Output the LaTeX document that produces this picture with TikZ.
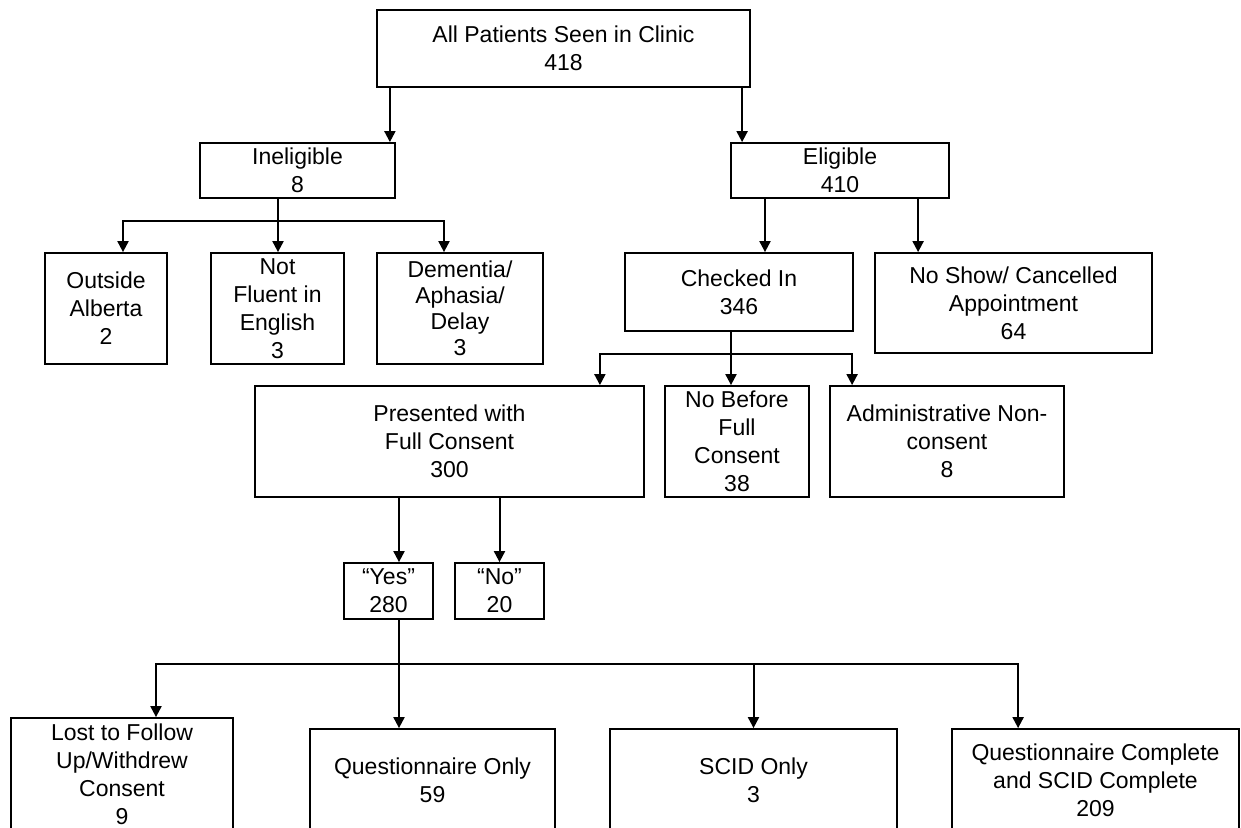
\documentclass[tikz,border=0pt]{standalone}
\usepackage{fontspec}
\setmainfont{Liberation Sans}
\usetikzlibrary{arrows.meta}

\begin{document}
\begin{tikzpicture}[x=1pt,y=1pt,>={Triangle[length=11pt,width=11pt]},font=\fontsize{23}{28}\selectfont,
		box/.style={draw,line width=1.8pt,align=center,inner sep=0pt},
		link/.style={->,line width=2pt},
		stem/.style={line width=1.2pt}]
			\useasboundingbox (0,0) rectangle (1241,-827);
			\fill[white] (0,0) rectangle (1241,-827);
			% top levels
			\node[box,minimum width=373pt,minimum height=77pt] (all) at (563.5,-48.5) {All Patients Seen in Clinic\\418};
			\node[box,minimum width=195pt,minimum height=55pt] (inel) at (297.5,-170.5) {Ineligible\\8};
			\node[box,minimum width=218pt,minimum height=55pt] (elig) at (840,-170.5) {Eligible\\410};
			\node[box,minimum width=122pt,minimum height=111pt] (outside) at (106,-308.5) {Outside\\Alberta\\2};
			\node[box,minimum width=133pt,minimum height=111pt] (fluent) at (277.5,-308.5) {Not\\Fluent in\\English\\3};
			\node[box,minimum width=166pt,minimum height=111pt] (dementia) at (460,-308.5) {Dementia/\\[-2pt]Aphasia/\\[-2pt]Delay\\[-2pt]3};
			\node[box,minimum width=228pt,minimum height=78pt] (checked) at (739,-292) {Checked In\\346};
			\node[box,minimum width=277pt,minimum height=100pt] (noshow) at (1013.5,-303) {No Show/ Cancelled\\Appointment\\64};
			% consent
			\node[box,minimum width=389pt,minimum height=111pt] (present) at (449.5,-441.5) {Presented with\\Full Consent\\300};
			\node[box,minimum width=144pt,minimum height=111pt] (nobefore) at (737,-441.5) {No Before\\Full\\Consent\\38};
			\node[box,minimum width=234pt,minimum height=111pt] (admin) at (947,-441.5) {Administrative Non-\\consent\\8};
			\node[box,minimum width=89pt,minimum height=56pt] (yes) at (388.5,-591) {“Yes”\\280};
			\node[box,minimum width=89pt,minimum height=56pt] (no) at (499.5,-591) {“No”\\20};
			% outcomes
			\node[box,minimum width=222pt,minimum height=113pt] (lost) at (122,-774.5) {Lost to Follow\\Up/Withdrew\\Consent\\9};
			\node[box,minimum width=245pt,minimum height=103pt] (qonly) at (432.5,-780.5) {Questionnaire Only\\59};
			\node[box,minimum width=287pt,minimum height=103pt] (scid) at (753.5,-780.5) {SCID Only\\3};
			\node[box,minimum width=287pt,minimum height=103pt] (qboth) at (1095.5,-780.5) {Questionnaire Complete\\and SCID Complete\\209};
			% arrow ends and branch points
			\coordinate (inIn) at ([xshift=-6pt]inel.north east);
			\coordinate (elIn) at ([xshift=12pt]elig.north west);
			\coordinate (ib) at ([xshift=-19.5pt,yshift=-22pt]inel.south);
			\coordinate (ckIn) at ([xshift=26pt]checked.north);
			\coordinate (nsIn) at ([xshift=44pt]noshow.north west);
			\coordinate (cb) at ([xshift=-8pt,yshift=-22pt]checked.south);
			\coordinate (yesIn) at ([xshift=10.5pt]yes.north);
			\coordinate (yb) at ([xshift=10.5pt,yshift=-44pt]yes.south);
			\draw[link] (all.south -| inIn) -- (inIn);
			\draw[link] (all.south -| elIn) -- (elIn);
			\draw[stem] (inel.south -| ib) -- (ib);
			\draw[link] (ib) -| ([xshift=17pt]outside.north);
			\draw[link] (ib) -- (ib |- fluent.north);
			\draw[link] (ib) -| ([xshift=-16pt]dementia.north);
			\draw[link] (elig.south -| ckIn) -- (ckIn);
			\draw[link] (elig.south -| nsIn) -- (nsIn);
			\draw[line width=2pt] (checked.south -| cb) -- (cb);
			\draw[link] (cb) -| ([xshift=-45pt]present.north east);
			\draw[link] (cb) -- (cb |- nobefore.north);
			\draw[link] (cb) -| ([xshift=23pt]admin.north west);
			\draw[link] (present.south -| yesIn) -- (yesIn);
			\draw[link] (present.south -| no.north) -- (no.north);
			\draw[stem] (yes.south -| yb) -- (yb);
			\draw[link] (yb) -| ([xshift=34pt]lost.north);
			\draw[link] (yb) -- (yb |- qonly.north);
			\draw[link] (yb) -| (scid.north);
			\draw[link] (yb) -| ([xshift=67pt]qboth.north west);
		\end{tikzpicture}
\end{document}
